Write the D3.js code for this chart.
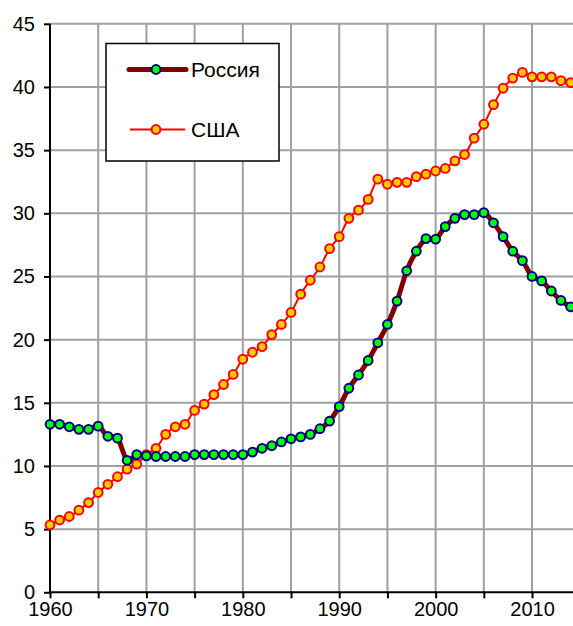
<!DOCTYPE html>
<html><head><meta charset="utf-8">
<script src="https://cdn.jsdelivr.net/npm/d3@7"></script>
<style>body{margin:0;background:#fff}svg{display:block}text{font-family:Arial,"Liberation Sans",sans-serif}</style>
</head><body>
<script>
const years = d3.range(1960, 2015);
const russia = [13.3,13.3,13.1,12.9,12.9,13.15,12.35,12.2,10.45,10.9,10.8,10.75,10.75,10.75,10.75,10.9,10.9,10.9,10.9,10.9,10.9,11.1,11.4,11.6,11.9,12.15,12.3,12.5,12.95,13.55,14.7,16.15,17.2,18.35,19.75,21.2,23.05,25.45,27.0,28.0,27.95,28.95,29.6,29.9,29.9,30.05,29.25,28.15,27.0,26.25,25.0,24.65,23.85,23.1,22.6];
const usa = [5.33,5.72,6.0,6.5,7.1,7.9,8.55,9.15,9.75,10.15,10.9,11.4,12.5,13.1,13.3,14.4,14.9,15.65,16.45,17.25,18.45,19.0,19.45,20.4,21.2,22.15,23.6,24.7,25.75,27.2,28.15,29.6,30.25,31.1,32.7,32.3,32.45,32.45,32.9,33.1,33.35,33.55,34.15,34.65,35.95,37.05,38.6,39.9,40.7,41.15,40.8,40.8,40.8,40.5,40.35];
const yTicks = d3.range(0, 46, 5);
const xTicks = d3.range(1960, 2015, 5);
const xLabels = [1960,1970,1980,1990,2000,2010];
const seriesNames = ["Россия", "США"];

const W = 573, H = 626;
const svg = d3.select("body").append("svg").attr("width", W).attr("height", H);
const x = d3.scaleLinear().domain([1960, 2014]).range([50, 570.6]);
const y = d3.scaleLinear().domain([0, 45]).range([592.3, 23.8]);

// grid
const grid = svg.append("g").attr("stroke", "#a0a0a0").attr("stroke-width", 2);
grid.selectAll(".h").data(yTicks.filter(d => d > 0)).join("line")
  .attr("x1", 50).attr("x2", W).attr("y1", d => y(d)).attr("y2", d => y(d));
grid.selectAll(".v").data(xTicks.filter(d => d > 1960)).join("line")
  .attr("y1", y(45)).attr("y2", y(0)).attr("x1", d => x(d)).attr("x2", d => x(d));

// axes
const yAxis = d3.axisLeft(y).tickValues(yTicks).tickSize(6).tickPadding(9);
const gy = svg.append("g").attr("transform", "translate(50,0)").call(yAxis);
gy.select(".domain").remove();
gy.selectAll("line").attr("stroke", "#000").attr("stroke-width", 2);
gy.selectAll("text").attr("font-size", 20).attr("fill", "#000");
svg.append("line").attr("x1", 50).attr("x2", 50).attr("y1", y(45)).attr("y2", y(0) + 1)
  .attr("stroke", "#000").attr("stroke-width", 2);

const xAxis = d3.axisBottom(x).tickValues(xTicks).tickSize(6).tickPadding(4)
  .tickFormat(d => xLabels.includes(d) ? String(d) : "");
const gx = svg.append("g").attr("transform", `translate(0,${y(0)})`).call(xAxis);
gx.select(".domain").remove();
gx.selectAll("line").attr("stroke", "#000").attr("stroke-width", 2);
gx.selectAll("text").attr("font-size", 20).attr("fill", "#000");
svg.append("line").attr("x1", 49).attr("x2", W).attr("y1", y(0)).attr("y2", y(0))
  .attr("stroke", "#000").attr("stroke-width", 2);

const curve = d3.curveCardinal.tension(0);
const line = d3.line().x((d, i) => x(years[i])).y(d => y(d)).curve(curve);

// Russia
svg.append("path").datum(russia).attr("d", line).attr("fill", "none")
  .attr("stroke", "#800000").attr("stroke-width", 5);
// USA
svg.append("path").datum(usa).attr("d", line).attr("fill", "none")
  .attr("stroke", "#ff0000").attr("stroke-width", 2);

svg.append("g").selectAll("circle").data(usa).join("circle")
  .attr("cx", (d, i) => x(years[i])).attr("cy", d => y(d)).attr("r", 4.4)
  .attr("fill", "#ffcc00").attr("stroke", "#ff0000").attr("stroke-width", 2);
svg.append("g").selectAll("circle").data(russia).join("circle")
  .attr("cx", (d, i) => x(years[i])).attr("cy", d => y(d)).attr("r", 4.4)
  .attr("fill", "#00ff00").attr("stroke", "#000080").attr("stroke-width", 2);

// legend
const lg = svg.append("g");
lg.append("rect").attr("x", 106).attr("y", 43.5).attr("width", 173).attr("height", 117.5)
  .attr("fill", "#fff").attr("stroke", "#000").attr("stroke-width", 1.5);
lg.append("line").attr("x1", 129).attr("x2", 186).attr("y1", 69.5).attr("y2", 69.5)
  .attr("stroke", "#800000").attr("stroke-width", 5).attr("stroke-linecap", "round");
lg.append("circle").attr("cx", 156).attr("cy", 69.5).attr("r", 4.4)
  .attr("fill", "#00ff00").attr("stroke", "#000080").attr("stroke-width", 2);
lg.append("text").attr("x", 191).attr("y", 77).attr("font-size", 21).text(seriesNames[0]);
lg.append("line").attr("x1", 130).attr("x2", 185).attr("y1", 129.5).attr("y2", 129.5)
  .attr("stroke", "#ff0000").attr("stroke-width", 2);
lg.append("circle").attr("cx", 156).attr("cy", 129.5).attr("r", 4.4)
  .attr("fill", "#ffcc00").attr("stroke", "#ff0000").attr("stroke-width", 2);
lg.append("text").attr("x", 191).attr("y", 137).attr("font-size", 21).text(seriesNames[1]);
</script>
</body></html>
